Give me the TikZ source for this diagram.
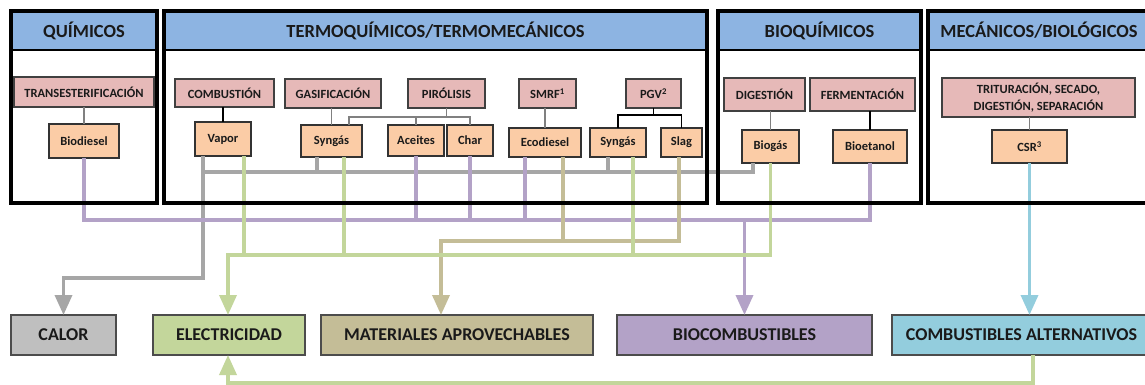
\documentclass[tikz,border=0pt]{standalone}
\usepackage{fontspec}
\setmainfont{Carlito}
\usetikzlibrary{arrows.meta}
\definecolor{hdrblue}{HTML}{8DB4E2}
\definecolor{procpink}{HTML}{E6B9B8}
\definecolor{prodpeach}{HTML}{FBCCA6}
\definecolor{calgray}{HTML}{BFBFBF}
\definecolor{elecgreen}{HTML}{C3D69B}
\definecolor{mattan}{HTML}{C4BD97}
\definecolor{biopurple}{HTML}{B3A2C7}
\definecolor{altblue}{HTML}{93CDDD}
\definecolor{flowgray}{HTML}{A6A6A6}
\definecolor{txt}{HTML}{1A1A1A}
\tikzset{
  area/.style={inner sep=0pt, outer sep=0pt, minimum height=192pt},
  arealine/.style={draw=black, line width=3.2pt},
  hdr/.style={draw=black, line width=2.6pt, fill=hdrblue, anchor=north,
    minimum height=39pt, inner sep=0pt, outer sep=0pt, text=txt,
    font=\fontsize{18.5}{20}\selectfont\bfseries},
  proc/.style={draw=black!75, line width=1.2pt, fill=procpink, inner sep=0pt,
    outer sep=0pt, align=center, text=txt,
    font=\fontsize{12.5}{17}\selectfont\bfseries},
  prod/.style={draw=black!80, line width=1.3pt, fill=prodpeach, inner sep=0pt,
    outer sep=0pt, text=txt, font=\fontsize{12.5}{14}\selectfont\bfseries},
  outbox/.style={draw=black!70, line width=1.2pt, inner sep=0pt, outer sep=0pt,
    minimum height=40pt, text=txt, font=\fontsize{18}{20}\selectfont\bfseries},
  link/.style={draw=black!50, line width=1.3pt},
  darklink/.style={draw=black, line width=1.4pt},
  flow/.style={line width=3.5pt},
  flowtip/.style={-{Triangle[width=17pt,length=20pt]}},
  grayflow/.style={flow, draw=flowgray, color=flowgray},
  purpleflow/.style={flow, draw=biopurple, color=biopurple},
  greenflow/.style={flow, draw=elecgreen, color=elecgreen},
  tanflow/.style={flow, draw=mattan, color=mattan},
  blueflow/.style={flow, draw=altblue, color=altblue},
}
\begin{document}
\begin{tikzpicture}[x=1pt,y=-1pt]
\useasboundingbox (0,0) rectangle (1145,385);
\fill[white] (0,0) rectangle (1145,385);

% process families
\node[area, minimum width=146pt] (fQ) at (84,107) {};
\node[area, minimum width=543pt] (fT) at (435.5,107) {};
\node[area, minimum width=203pt] (fB) at (819.5,107) {};
\node[area, minimum width=222pt] (fM) at (1039,107) {};
\node[hdr, minimum width=146pt] (hQ) at (fQ.north) {QUÍMICOS};
\node[hdr, minimum width=543pt] (hT) at (fT.north) {TERMOQUÍMICOS/TERMOMECÁNICOS};
\node[hdr, minimum width=203pt] (hB) at (fB.north) {BIOQUÍMICOS};
\node[hdr, minimum width=222pt] (hM) at (fM.north) {MECÁNICOS/BIOLÓGICOS};

% processes
\node[proc, minimum width=140pt, minimum height=30pt] (trans) at (84,92) {TRANSESTERIFICACIÓN};
\node[proc, minimum width=99pt, minimum height=28pt] (combu) at (224.5,93) {COMBUSTIÓN};
\node[proc, minimum width=96pt, minimum height=29pt] (gasif) at (333,93.5) {GASIFICACIÓN};
\node[proc, minimum width=77pt, minimum height=29pt] (pyro) at (446.5,93.5) {PIRÓLISIS};
\node[proc, minimum width=57pt, minimum height=29pt] (smrf) at (547.5,93.5) {SMRF\textsuperscript{1}};
\node[proc, minimum width=55pt, minimum height=29pt] (pgv) at (653.5,93.5) {PGV\textsuperscript{2}};
\node[proc, minimum width=81pt, minimum height=33pt] (dige) at (764.5,94.5) {DIGESTIÓN};
\node[proc, minimum width=105pt, minimum height=33pt] (ferm) at (862.5,94.5) {FERMENTACIÓN};
\node[proc, minimum width=193pt, minimum height=39pt] (trit) at (1038.5,97.5) {TRITURACIÓN, SECADO,\\DIGESTIÓN, SEPARACIÓN};

% products
\node[prod, minimum width=70pt, minimum height=34pt] (biod) at (84,141) {Biodiesel};
\node[prod, minimum width=56pt, minimum height=34pt] (vapor) at (223,139) {Vapor};
\node[prod, minimum width=61pt, minimum height=32pt] (synA) at (331.5,141) {Syngás};
\node[prod, minimum width=56pt, minimum height=31pt] (acei) at (416,140.5) {Aceites};
\node[prod, minimum width=46pt, minimum height=31pt] (char) at (470,140.5) {Char};
\node[prod, minimum width=72pt, minimum height=29pt] (ecod) at (545,142.5) {Ecodiesel};
\node[prod, minimum width=56pt, minimum height=29pt] (synB) at (618,142.5) {Syngás};
\node[prod, minimum width=41pt, minimum height=29pt] (slag) at (681.5,142.5) {Slag};
\node[prod, minimum width=57pt, minimum height=33pt] (biog) at (770.5,146.5) {Biogás};
\node[prod, minimum width=74pt, minimum height=33pt] (bioe) at (870,146.5) {Bioetanol};
\node[prod, minimum width=75pt, minimum height=33pt] (csr) at (1029.5,146.5) {CSR\textsuperscript{3}};

% final uses
\node[outbox, fill=calgray, minimum width=105pt] (calor) at (63.5,335) {CALOR};
\node[outbox, fill=elecgreen, minimum width=152pt] (elec) at (229,335) {ELECTRICIDAD};
\node[outbox, fill=mattan, minimum width=272pt] (mate) at (457,335) {MATERIALES APROVECHABLES};
\node[outbox, fill=biopurple, minimum width=255pt] (bioc) at (744.5,335) {BIOCOMBUSTIBLES};
\node[outbox, fill=altblue, minimum width=259pt] (alter) at (1021.5,335) {COMBUSTIBLES ALTERNATIVOS};

% process -> product links
\draw[link] (trans.south) -- (biod.north);
\draw[darklink] (vapor.north |- combu.south) -- (vapor.north);
\draw[link] (synA.north |- gasif.south) -- (synA.north);
\draw[link] (pyro.south) -- ++(0,9) coordinate (pyroJ);
\coordinate (synAp) at ([xshift=17.5pt]synA.north);
\draw[link] (synAp) |- (char.north |- pyroJ) -- (char.north);
\draw[link] (acei.north) -- (acei.north |- pyroJ);
\draw[link] (ecod.north |- smrf.south) -- (ecod.north);
\draw[darklink] (pgv.south) -- ++(0,7) coordinate (pgvJ);
\draw[darklink] (synB.north) |- (slag.north |- pgvJ) -- (slag.north);
\draw[link] (biog.north |- dige.south) -- (biog.north);
\draw[darklink] (bioe.north |- ferm.south) -- (bioe.north);
\draw[link] (csr.north |- trit.south) -- (csr.north);

% bus levels
\coordinate (grayY) at (0,172);
\coordinate (purpY) at (0,220);
\coordinate (tanY) at (0,241);
\coordinate (greenY) at (0,255);
\coordinate (heatY) at (0,278);
\coordinate (backY) at (0,383);

% take-off points on the products
\coordinate (vapG) at ([xshift=-20pt]vapor.south);
\coordinate (vapE) at ([xshift=21pt]vapor.south);
\coordinate (synAG) at ([xshift=-14.5pt]synA.south);
\coordinate (synAE) at ([xshift=12.5pt]synA.south);
\coordinate (synBG) at ([xshift=-10pt]synB.south);
\coordinate (synBE) at ([xshift=15pt]synB.south);
\coordinate (ecoP) at ([xshift=-20pt]ecod.south);
\coordinate (ecoT) at ([xshift=18pt]ecod.south);
\coordinate (slagT) at ([xshift=-2.5pt]slag.south);
\coordinate (biogG) at ([xshift=-17.5pt]biog.south);
\coordinate (biogE) at (biog.south);
\coordinate (elecIn) at ([xshift=-1pt]elec.north);
\coordinate (elecBack) at ([xshift=-1pt]elec.south);
\coordinate (mateIn) at ([xshift=-16pt]mate.north);
\coordinate (altOut) at ([xshift=11.5pt]alter.south);

% heat
\draw[grayflow, flowtip] (vapG) -- (vapG |- heatY) -| (calor.north);
\draw[grayflow] (vapG |- grayY) -| (biogG);
\draw[grayflow] (synAG) -- (synAG |- grayY);
\draw[grayflow] (synBG) -- (synBG |- grayY);

% biofuels
\draw[purpleflow] (biod.south) |- (bioe.south |- purpY) -- (bioe.south);
\draw[purpleflow] (acei.south) -- (acei.south |- purpY);
\draw[purpleflow] (char.south) -- (char.south |- purpY);
\draw[purpleflow] (ecoP) -- (ecoP |- purpY);
\draw[purpleflow, flowtip] (bioc.north |- purpY) -- (bioc.north);

% recoverable materials
\draw[tanflow] (ecoT) -- (ecoT |- tanY);
\draw[tanflow, flowtip] (slagT) |- (mateIn |- tanY) -- (mateIn);

% electricity
\draw[greenflow, flowtip] (biogE) |- (elecIn |- greenY) -- (elecIn);
\draw[greenflow] (vapE) -- (vapE |- greenY);
\draw[greenflow] (synAE) -- (synAE |- greenY);
\draw[greenflow] (synBE) -- (synBE |- greenY);

% alternative fuels
\draw[blueflow, flowtip] (csr.south) -- (csr.south |- alter.north);
\draw[greenflow, flowtip] (altOut) |- (elecBack |- backY) -- (elecBack);

% family outlines on top
\foreach \f in {fQ,fT,fB,fM}
  \draw[arealine] (\f.north west) rectangle (\f.south east);
\end{tikzpicture}
\end{document}
